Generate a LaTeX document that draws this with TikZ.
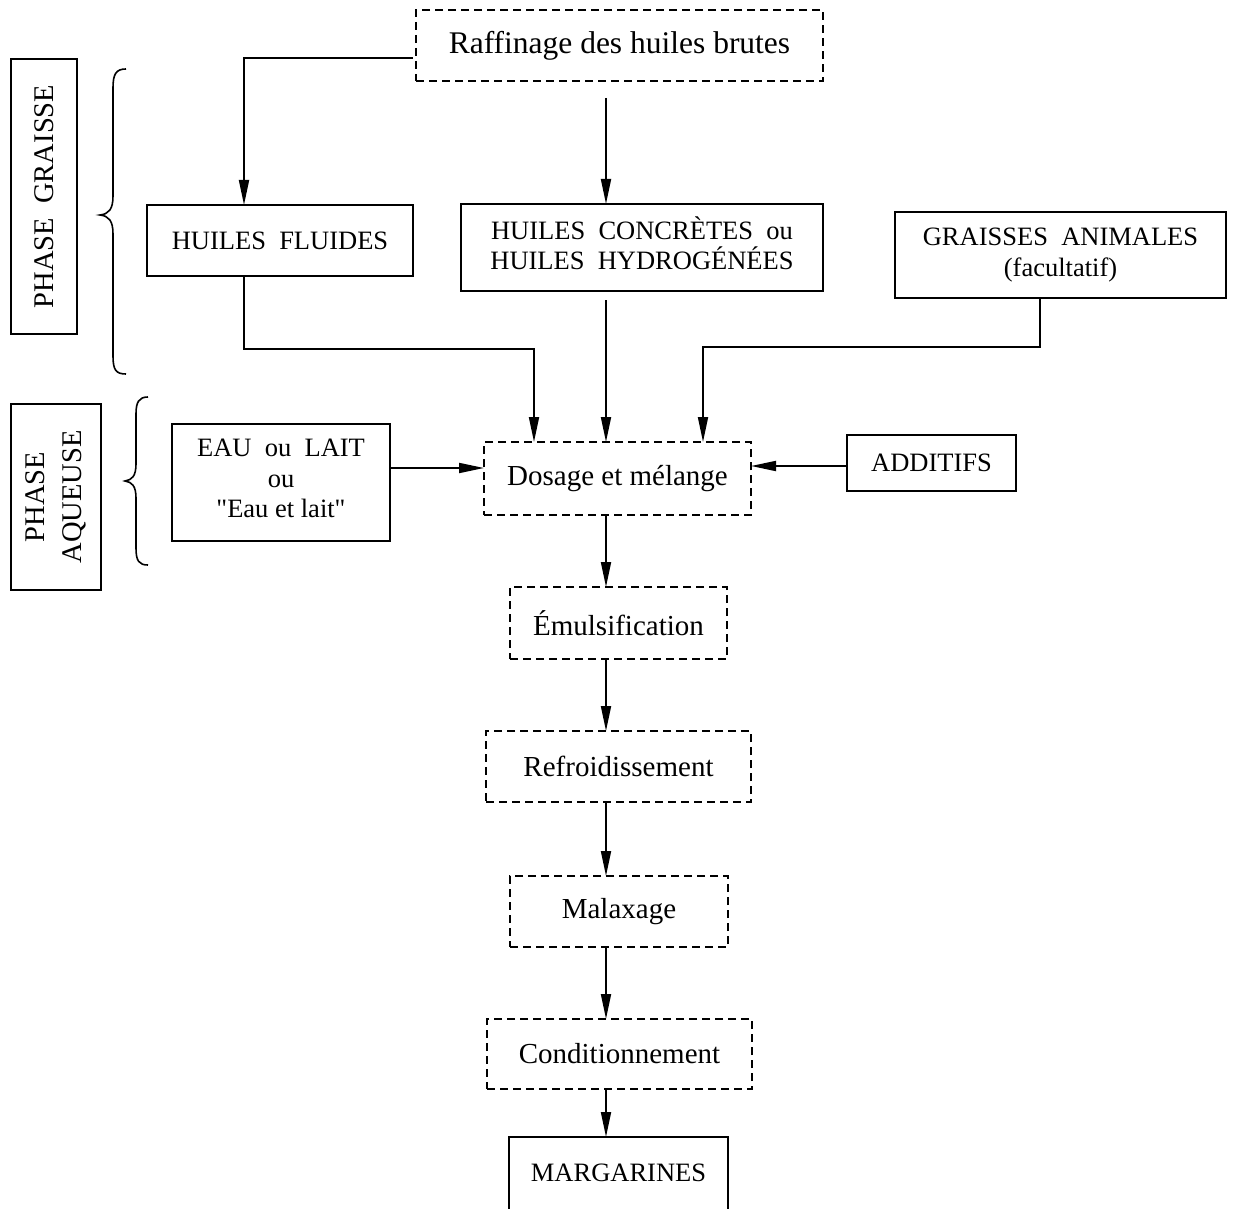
\documentclass[tikz,border=0pt]{standalone}
\usepackage{fontspec}
\setmainfont{Liberation Serif}
\newfontfamily\qfont{Liberation Serif}[Ligatures=TeXOff]
\usetikzlibrary{arrows.meta}
\begin{document}
\begin{tikzpicture}[x=1pt,y=-1pt,
  every node/.style={inner sep=0pt, outer sep=0pt},
  solidbox/.style={draw, line width=1.8pt, align=center, font=\fontsize{26.5}{30.5}\selectfont},
  dashbox/.style={draw, line width=1.8pt, dash pattern=on 8pt off 5pt, align=center, font=\fontsize{29}{34}\selectfont},
  conn/.style={line width=1.8pt},
  arr/.style={conn, -{Triangle[length=25pt,width=10pt]}},
  bracestyle/.style={line width=1.6pt},
]
\fill[white] (0,0) rectangle (1234,1209);
\useasboundingbox (0,0) rectangle (1234,1209);

% nodes
\node[dashbox, minimum width=407, minimum height=71, font=\fontsize{31.5}{36}\selectfont] (raf) at (619.5,45.5) {Raffinage des huiles brutes};
\node[solidbox, minimum width=266, minimum height=71] (hf) at (280,240.5) {HUILES\ \ FLUIDES};
\node[solidbox, minimum width=362, minimum height=87] (hc) at (642,247.5) {HUILES\ \ CONCRÈTES\ \ ou\\HUILES\ \ HYDROGÉNÉES\rule[-9pt]{0pt}{1pt}};
\node[solidbox, minimum width=331, minimum height=86] (ga) at (1060.5,255) {GRAISSES\ \ ANIMALES\\(facultatif)};
\node[solidbox, minimum width=218, minimum height=117] (eau) at (281,482.5) {EAU\ \ ou\ \ LAIT\\ou\\{\qfont "Eau et lait"}\rule[-8pt]{0pt}{1pt}};
\node[dashbox, minimum width=267, minimum height=73] (dos) at (617.5,478.5) {Dosage et mélange};
\node[solidbox, minimum width=169, minimum height=56] (add) at (931.5,463) {ADDITIFS};
\node[dashbox, minimum width=217, minimum height=72] (emu) at (618.5,623) {Émulsification};
\node[dashbox, minimum width=265, minimum height=71] (ref) at (618.5,766.5) {Refroidissement};
\node[dashbox, minimum width=218, minimum height=71] (mal) at (619,911.5) {Malaxage};
\node[dashbox, minimum width=265, minimum height=70] (con) at (619.5,1054) {Conditionnement};
\node[solidbox, draw=none, minimum width=219, minimum height=72, anchor=north] (mar) at (618.5,1137) {MARGARINES};
\draw[conn] ([yshift=-20pt]mar.south west) -- (mar.north west) -- (mar.north east) -- ([yshift=-20pt]mar.south east);

\node[draw, line width=1.8pt, rotate=90, minimum width=275, minimum height=66, font=\fontsize{28.5}{33}\selectfont] (pg) at (44,196.5) {PHASE\ \ GRAISSE};
\node[draw, line width=1.8pt, rotate=90, minimum width=186, minimum height=90, align=center, font=\fontsize{28.5}{37}\selectfont] (pa) at (56,497) {PHASE\\AQUEUSE};

% braces
\draw[bracestyle] (126,69) .. controls (116,69) and (113,74) .. (113,88) -- (113,196) .. controls (113,209) and (109,214) .. (100,215) .. controls (109,216) and (113,221) .. (113,234) -- (113,356) .. controls (113,370) and (116,374) .. (126,374);
\draw[bracestyle] (148,397) .. controls (139,397) and (136,402) .. (136,414) -- (136,464) .. controls (136,476) and (132,480) .. (125,481) .. controls (132,482) and (136,486) .. (136,498) -- (136,548) .. controls (136,561) and (139,565) .. (148,565);

% connectors
\coordinate (col) at (606,0);
\coordinate (j1) at (244,58);
\draw[arr] ([xshift=-3pt]raf.west |- j1) -- (j1) -- (j1 |- hf.north);
\draw[arr, shorten <=17pt] (raf.south -| col) -- (hc.north -| col);
\draw[arr, shorten <=9pt] (hc.south -| col) -- (dos.north -| col);
\coordinate (j2) at (244,349);
\coordinate (j3) at (534,349);
\draw[arr] (hf.south -| j2) -- (j2) -- (j3) -- (j3 |- dos.north);
\coordinate (j4) at (1040,347);
\coordinate (j5) at (703,347);
\draw[arr] (ga.south -| j4) -- (j4) -- (j5) -- (j5 |- dos.north);
\coordinate (j6) at (0,468);
\draw[arr] (eau.east |- j6) -- (dos.west |- j6);
\coordinate (j7) at (0,466);
\draw[arr] (add.west |- j7) -- (dos.east |- j7);
\draw[arr] (dos.south -| col) -- (emu.north -| col);
\draw[arr] (emu.south -| col) -- (ref.north -| col);
\draw[arr] (ref.south -| col) -- (mal.north -| col);
\draw[arr] (mal.south -| col) -- (con.north -| col);
\draw[arr] (con.south -| col) -- (mar.north -| col);
\end{tikzpicture}
\end{document}
